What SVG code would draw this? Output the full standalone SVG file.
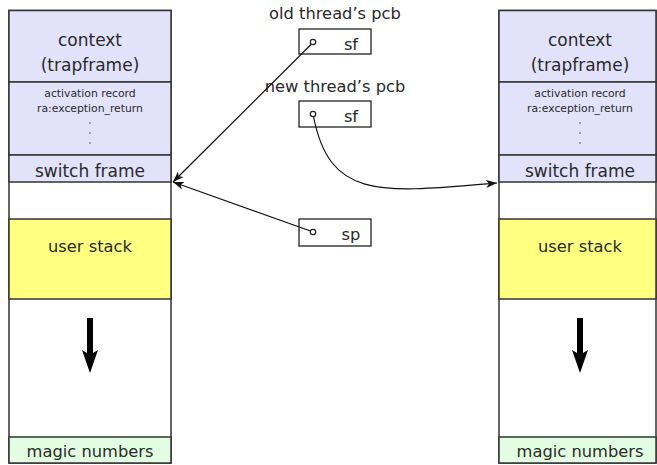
<svg xmlns="http://www.w3.org/2000/svg" width="657" height="465" viewBox="0 0 657 465">
<defs>
<style>
text{font-family:"DejaVu Sans","Liberation Sans",sans-serif;fill:#2a2a2a;text-anchor:middle}
.big{font-size:17px}
.mid{font-size:16.3px}
.small{font-size:10.8px}
.box{stroke:#333;stroke-width:1.5}
.lav{fill:#e2e2fb}
.yel{fill:#ffff80}
.grn{fill:#e2fde2}
.wht{fill:#ffffff}
.pcb{fill:#fff;stroke:#222;stroke-width:1.3}
.dot{fill:#fff;stroke:#222;stroke-width:1.2}
.vd{fill:#444}
.conn{fill:none;stroke:#111;stroke-width:1.2}
</style>
<marker id="ah" viewBox="0 0 12 10" refX="11" refY="5" markerWidth="12" markerHeight="10" markerUnits="userSpaceOnUse" orient="auto">
<path d="M0,1 L11,5 L0,9 L3,5 Z" fill="#111"/>
</marker>
</defs>

<g id="left-stack">
<rect class="box wht" x="9" y="10.5" width="162" height="452.5"/>
<rect class="box lav" x="9" y="10.5" width="162" height="71.5"/>
<rect class="box lav" x="9" y="82" width="162" height="73"/>
<rect class="box lav" x="9" y="155" width="162" height="27"/>
<rect class="box yel" x="9" y="219" width="162" height="80"/>
<rect class="box grn" x="9" y="437" width="162" height="26"/>
<text class="big" x="90" y="46">context</text>
<text class="big" x="90" y="71">(trapframe)</text>
<text class="small" x="90" y="97">activation record</text>
<text class="small" x="90" y="112">ra:exception_return</text>
<circle class="vd" cx="90" cy="123" r="0.8"/>
<circle class="vd" cx="90" cy="133" r="0.8"/>
<circle class="vd" cx="90" cy="143" r="0.8"/>
<text class="big" x="90" y="177">switch frame</text>
<text class="mid" x="90" y="252">user stack</text>
<text class="mid" x="90" y="457">magic numbers</text>
<path d="M87,318 H93 V353 L98,350 L90,373 L82,350 L87,353 Z" fill="#000"/>
</g>

<g id="right-stack">
<rect class="box wht" x="499" y="10.5" width="157" height="452.5"/>
<rect class="box lav" x="499" y="10.5" width="157" height="71.5"/>
<rect class="box lav" x="499" y="82" width="157" height="73"/>
<rect class="box lav" x="499" y="155" width="157" height="27"/>
<rect class="box yel" x="499" y="219" width="157" height="80"/>
<rect class="box grn" x="499" y="437" width="157" height="26"/>
<text class="big" x="580" y="46">context</text>
<text class="big" x="580" y="71">(trapframe)</text>
<text class="small" x="580" y="97">activation record</text>
<text class="small" x="580" y="112">ra:exception_return</text>
<circle class="vd" cx="580" cy="123" r="0.8"/>
<circle class="vd" cx="580" cy="133" r="0.8"/>
<circle class="vd" cx="580" cy="143" r="0.8"/>
<text class="big" x="580" y="177">switch frame</text>
<text class="mid" x="580" y="252">user stack</text>
<text class="mid" x="580" y="457">magic numbers</text>
<path d="M577,318 H583 V353 L588,350 L580,373 L572,350 L577,353 Z" fill="#000"/>
</g>

<g id="old-pcb">
<text class="mid" x="335" y="19">old thread’s pcb</text>
<rect class="pcb" x="299" y="29" width="72" height="25"/>
<text class="mid" x="351" y="50">sf</text>
</g>

<g id="new-pcb">
<text class="mid" x="335" y="92">new thread’s pcb</text>
<rect class="pcb" x="299" y="101" width="72" height="26"/>
<text class="mid" x="351" y="122">sf</text>
</g>

<g id="sp-box">
<rect class="pcb" x="299" y="219" width="72" height="27"/>
<text class="mid" x="351" y="240">sp</text>
</g>

<g id="connectors">
<path class="conn" d="M311.5,44 L173,182" marker-end="url(#ah)"/>
<path class="conn" d="M310.5,231 L173,182" marker-end="url(#ah)"/>
<path class="conn" d="M313.5,116.5 C330,200 380,193 497,183" marker-end="url(#ah)"/>
<circle class="dot" cx="313" cy="42" r="2.7"/>
<circle class="dot" cx="313" cy="114" r="2.7"/>
<circle class="dot" cx="313" cy="232" r="2.7"/>
</g>
</svg>
